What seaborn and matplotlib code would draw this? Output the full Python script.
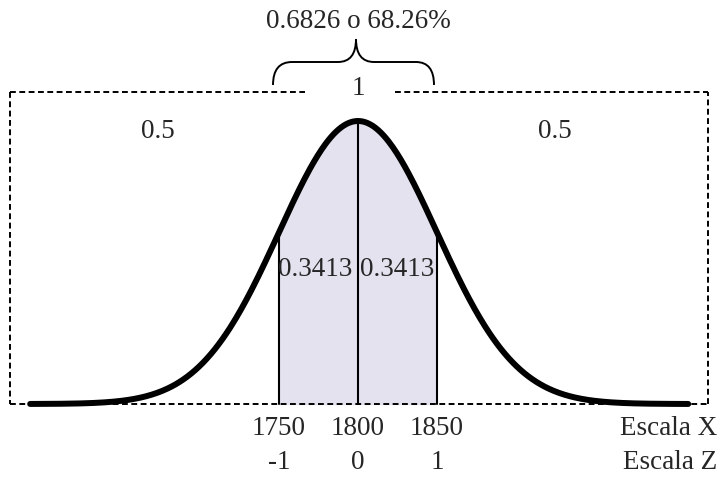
import numpy as np
import pandas as pd
import matplotlib
matplotlib.use("Agg")
import matplotlib.pyplot as plt
import matplotlib.transforms as mtransforms
from matplotlib.path import Path
from matplotlib.patches import PathPatch
import seaborn as sns

# datos de la distribucion
media = 1800
desv = 50
escala_x = [1750, 1800, 1850]
escala_z = ["-1", "0", "1"]
area_colas = ["0.5", "0.5"]
area_centro = ["0.3413", "0.3413"]
titulo = "0.6826 o 68.26%"
area_total = "1"
nombres_escala = ["Escala X", "Escala Z"]

sns.set_style("white")
plt.rcParams['font.family'] = ['Liberation Serif', 'DejaVu Serif']

W, H = 720, 481


def fx(px):
    return px / W


def fy(py):
    return 1 - py / H


# curva normal a partir de la media y la desviacion
x = np.linspace(media - 4.15 * desv, media + 4.18 * desv, 500)
y = np.exp(-0.5 * ((x - media) / desv) ** 2) / (desv * np.sqrt(2 * np.pi))
df = pd.DataFrame({"x": x, "y": y})
pico = 1 / (desv * np.sqrt(2 * np.pi))

fig = plt.figure(figsize=(W / 100, H / 100), dpi=100)
ax = fig.add_axes([0, 0, 1, 1])

# sombreado entre -1 y 1
mask = (df["x"] >= escala_x[0]) & (df["x"] <= escala_x[2])
ax.fill_between(df["x"][mask], 0, df["y"][mask], color="#e4e2ef", zorder=1)

sns.lineplot(data=df, x="x", y="y", color="black", linewidth=4.3, ax=ax, zorder=3)

# lineas verticales
for xv in escala_x:
    yv = np.exp(-0.5 * ((xv - media) / desv) ** 2) / (desv * np.sqrt(2 * np.pi))
    ax.plot([xv, xv], [0, yv], color="black", linewidth=1.5, zorder=2)

escala = pico / 283
ax.set_ylim(-(H - 405) * escala, 405 * escala)
ax.set_xlim(media - 358 / 1.58, media + (W - 358) / 1.58)
ax.axis("off")

# rectangulo punteado
ls = (0, (3, 1.8))
kw = dict(color="black", linewidth=1.4, linestyle=ls, transform=ax.transAxes)
ax.plot([fx(10), fx(10)], [fy(93), fy(405)], **kw)
ax.plot([fx(10), fx(708)], [fy(405), fy(405)], **kw)
ax.plot([fx(708), fx(708)], [fy(405), fy(93)], **kw)
ax.plot([fx(10), fx(305)], [fy(93), fy(93)], **kw)
ax.plot([fx(395), fx(708)], [fy(93), fy(93)], **kw)

# llave superior
pts = [(273, 86), (273, 63), (292, 63), (338, 63), (356, 63), (356, 40),
       (356, 63), (374, 63), (416, 63), (434, 63), (434, 86)]
codes = [Path.MOVETO, Path.CURVE3, Path.CURVE3, Path.LINETO, Path.CURVE3, Path.CURVE3,
         Path.CURVE3, Path.CURVE3, Path.LINETO, Path.CURVE3, Path.CURVE3]
verts = [(fx(a), fy(b)) for a, b in pts]
ax.add_patch(PathPatch(Path(verts, codes), fill=False, lw=1.4, color="black",
                       transform=ax.transAxes))

fs = 19.5
ax.text(fx(358), fy(22), titulo, ha="center", va="center", fontsize=fs, transform=ax.transAxes)
ax.text(fx(358), fy(89), area_total, ha="center", va="center", fontsize=fs, transform=ax.transAxes)
ax.text(fx(158), fy(132), area_colas[0], ha="center", va="center", fontsize=fs, transform=ax.transAxes)
ax.text(fx(555), fy(132), area_colas[1], ha="center", va="center", fontsize=fs, transform=ax.transAxes)
ax.text(fx(315), fy(270), area_centro[0], ha="center", va="center", fontsize=fs, transform=ax.transAxes)
ax.text(fx(397), fy(270), area_centro[1], ha="center", va="center", fontsize=fs, transform=ax.transAxes)

trans = mtransforms.blended_transform_factory(ax.transData, ax.transAxes)
for xv, zv in zip(escala_x, escala_z):
    ax.text(xv, fy(429), str(xv), ha="center", va="center", fontsize=fs, transform=trans)
    ax.text(xv, fy(463), zv, ha="center", va="center", fontsize=fs, transform=trans)
ax.text(fx(717), fy(429), nombres_escala[0], ha="right", va="center", fontsize=fs, transform=ax.transAxes)
ax.text(fx(717), fy(463), nombres_escala[1], ha="right", va="center", fontsize=fs, transform=ax.transAxes)

fig.savefig("out.png", dpi=100)
